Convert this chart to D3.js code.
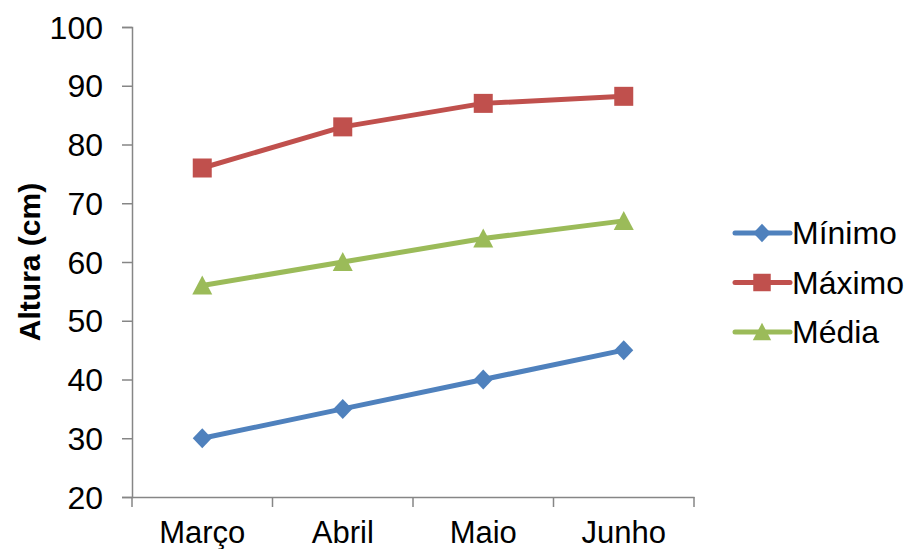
<!DOCTYPE html>
<html>
<head>
<meta charset="utf-8">
<script src="https://cdn.jsdelivr.net/npm/d3@7"></script>
<style>
  body { margin: 0; background: #fff; }
  text { font-family: "Liberation Sans", Arial, sans-serif; }
</style>
</head>
<body>
<div id="chart"></div>
<script>
const months = ["Março", "Abril", "Maio", "Junho"];
const minimo = [30, 35, 40, 45];
const maximo = [76, 83, 87, 88.2];
const media = [56, 60, 64, 67];
const yTicks = [20, 30, 40, 50, 60, 70, 80, 90, 100];

const series = [
  {name: "Mínimo", values: minimo, color: "#4F81BD", shape: "diamond"},
  {name: "Máximo", values: maximo, color: "#C0504D", shape: "square"},
  {name: "Média", values: media, color: "#9BBB59", shape: "triangle"}
];

const W = 906, H = 549;
const svg = d3.select("#chart").append("svg").attr("width", W).attr("height", H);

const x = d3.scaleBand().domain(months).range([132, 694]);
const y = d3.scaleLinear().domain([20, 100]).range([497, 27]);

const axisColor = "#868686";
const fontFam = "Liberation Sans, Arial, sans-serif";

// y axis
const yAxis = svg.append("g").attr("transform", "translate(132,0)")
  .call(d3.axisLeft(y).tickValues(yTicks).tickSize(10).tickPadding(19));
yAxis.select(".domain").attr("stroke", axisColor).attr("stroke-width", 1.5);
yAxis.selectAll(".tick line").attr("stroke", axisColor).attr("stroke-width", 1.5);
yAxis.selectAll(".tick text").attr("font-size", 32).attr("fill", "#000")
  .attr("font-family", fontFam).attr("dy", "0.35em");

// x axis
const xAxis = svg.append("g").attr("transform", "translate(0,497)")
  .call(d3.axisBottom(x).tickSize(0).tickPadding(24));
xAxis.select(".domain").attr("stroke", axisColor).attr("stroke-width", 1.5);
xAxis.selectAll(".tick text").attr("font-size", 31).attr("fill", "#000")
  .attr("font-family", fontFam).attr("dy", "0.71em");
// category boundary ticks
const bounds = months.map(m => x(m)).concat([x.range()[1]]);
svg.append("g").selectAll("line").data(bounds).enter().append("line")
  .attr("x1", d => d).attr("x2", d => d)
  .attr("y1", 497).attr("y2", 507)
  .attr("stroke", axisColor).attr("stroke-width", 1.5);

// y title
svg.append("text")
  .attr("transform", "translate(40,262) rotate(-90)")
  .attr("text-anchor", "middle")
  .attr("font-size", 30).attr("font-weight", "bold")
  .text("Altura (cm)");

function marker(g, shape, color, k) {
  if (shape === "diamond") {
    g.append("path").attr("d", `M0,${-10*k}L${9.5*k},0L0,${10*k}L${-9.5*k},0Z`).attr("fill", color);
  } else if (shape === "square") {
    g.append("rect").attr("x", -9.5*k).attr("y", -9.5*k).attr("width", 19*k).attr("height", 19*k).attr("fill", color);
  } else {
    g.append("path").attr("d", `M0,${-10*k}L${10*k},${9*k}L${-10*k},${9*k}Z`).attr("fill", color);
  }
}

const line = d3.line().x((d, i) => x(months[i]) + x.bandwidth() / 2).y(d => y(d));

series.forEach(s => {
  svg.append("path").datum(s.values)
    .attr("d", line).attr("fill", "none")
    .attr("stroke", s.color).attr("stroke-width", 5).attr("stroke-linejoin", "round");
  s.values.forEach((v, i) => {
    const g = svg.append("g").attr("transform", `translate(${x(months[i]) + x.bandwidth() / 2},${y(v)})`);
    marker(g, s.shape, s.color, 1);
  });
});

// legend
const legend = svg.append("g").attr("transform", "translate(735,233)");
series.forEach((s, i) => {
  const g = legend.append("g").attr("transform", `translate(0,${i * 49.5})`);
  g.append("line").attr("x1", 0).attr("x2", 55).attr("y1", 0).attr("y2", 0)
    .attr("stroke", s.color).attr("stroke-width", 5).attr("stroke-linecap", "round");
  const m = g.append("g").attr("transform", "translate(27,0)");
  marker(m, s.shape, s.color, 0.92);
  g.append("text").attr("x", 57).attr("y", 0).attr("dy", "0.35em")
    .attr("font-size", 32).text(s.name);
});
</script>
</body>
</html>
